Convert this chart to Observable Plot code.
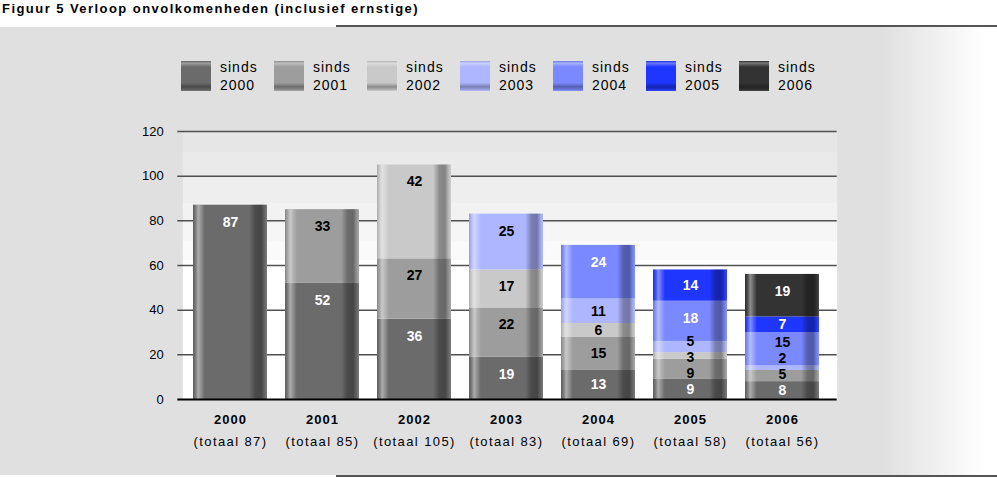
<!DOCTYPE html>
<html><head><meta charset="utf-8">
<script src="https://cdn.jsdelivr.net/npm/d3@7"></script>
<script src="https://cdn.jsdelivr.net/npm/@observablehq/plot@0.6"></script>
<style>
body{margin:0;background:#fff;font-family:"Liberation Sans",Arial,sans-serif;color:#000;}
#wrap{position:relative;width:997px;height:478px;overflow:hidden;}
#title{position:absolute;left:2px;top:1px;font-weight:bold;font-size:13px;letter-spacing:1.45px;white-space:nowrap;}
#topline{position:absolute;left:336px;top:25px;width:661px;height:2px;background:#555;}
#bg{position:absolute;left:0;top:27px;width:997px;height:448px;background:linear-gradient(to right,#e0e0e0 0,#e0e0e0 883px,#ffffff 985px);}
#botline{position:absolute;left:336px;top:475px;width:661px;height:2px;background:#555;}
#legend{position:absolute;left:181px;top:61px;display:flex;}
.item{display:flex;width:93px;}
.sw{width:30px;height:30px;}
.lab{margin-left:9px;font-size:14px;line-height:18px;margin-top:-3px;letter-spacing:1px;}
#chart{position:absolute;left:0;top:110px;}
#chart svg{overflow:visible;}
.xlab text{letter-spacing:1px;}
.tot text{letter-spacing:1.4px;}
</style></head>
<body>
<div id="wrap">
  <div id="bg"></div>
  <div id="title"></div>
  <div id="topline"></div>
  <div id="botline"></div>
  <div id="legend"></div>
  <div id="chart"></div>
</div>
<script>
const titleText = "Figuur 5 Verloop onvolkomenheden (inclusief ernstige)";
const years = ["2000", "2001", "2002", "2003", "2004", "2005", "2006"];
const totals = [87, 85, 105, 83, 69, 58, 56];
const seriesNames = ["sinds 2000", "sinds 2001", "sinds 2002", "sinds 2003", "sinds 2004", "sinds 2005", "sinds 2006"];
const sinds2000 = [87, 52, 36, 19, 13, 9, 8];
const sinds2001 = [0, 33, 27, 22, 15, 9, 5];
const sinds2002 = [0, 0, 42, 17, 6, 3, 0];
const sinds2003 = [0, 0, 0, 25, 11, 5, 2];
const sinds2004 = [0, 0, 0, 0, 24, 18, 15];
const sinds2005 = [0, 0, 0, 0, 0, 14, 7];
const sinds2006 = [0, 0, 0, 0, 0, 0, 19];
const seriesColors = ["#6b6b6b", "#9d9d9d", "#c9c9c9", "#aeb6ff", "#7a89ff", "#1f36ff", "#333333"];
const labelInk = ["white", "black", "black", "black", "white", "white", "white"];
const inkExceptions = [{year: "2006", series: "sinds 2004", ink: "black"}];
const yTicks = [0, 20, 40, 60, 80, 100, 120];

document.getElementById("title").textContent = titleText;

// legend
const legend = document.getElementById("legend");
seriesNames.forEach((s, i) => {
  const it = document.createElement("div"); it.className = "item";
  const sw = document.createElement("div"); sw.className = "sw";
  sw.style.background = "linear-gradient(to bottom, rgba(0,0,0,0.12) 0%, rgba(255,255,255,0.35) 7%, rgba(255,255,255,0.15) 14%, rgba(255,255,255,0) 20%, rgba(0,0,0,0) 72%, rgba(0,0,0,0.12) 78%, rgba(0,0,0,0.3) 86%, rgba(0,0,0,0.15) 94%, rgba(255,255,255,0.1) 100%), " + seriesColors[i];
  const lab = document.createElement("div"); lab.className = "lab";
  const parts = s.split(" ");
  lab.innerHTML = parts[0] + "<br>" + parts[1];
  it.appendChild(sw); it.appendChild(lab); legend.appendChild(it);
});

const values = [sinds2000, sinds2001, sinds2002, sinds2003, sinds2004, sinds2005, sinds2006];
const rows = [];
seriesNames.forEach((s, i) => years.forEach((y, j) => rows.push({year: y, series: s, value: values[i][j], si: i})));

// label positions derived from the stacked data (near the top of each segment,
// then spread apart so small neighbouring segments keep readable labels)
const minGap = 7.1; // in data units (~16px)
const labels = [];
years.forEach((y, j) => {
  let cum = 0;
  const col = [];
  rows.filter(r => r.year === y).forEach(r => {
    cum += r.value;
    if (r.value > 0) {
      const ex = inkExceptions.find(e => e.year === r.year && e.series === r.series);
      col.push({year: y, value: r.value, ypos: cum - Math.min(r.value / 2, 7.6), ink: ex ? ex.ink : labelInk[r.si]});
    }
  });
  for (let it = 0; it < 200; it++) {
    for (let k = 1; k < col.length; k++) {
      const a = col[k - 1], b = col[k];
      if (b.ypos - a.ypos < minGap - 1e-6) {
        if (k === 1) { b.ypos = a.ypos + minGap; }
        else {
          const mid = (a.ypos + b.ypos) / 2;
          a.ypos = mid - minGap / 2; b.ypos = mid + minGap / 2;
        }
      }
    }
  }
  labels.push(...col);
});
const totalRows = years.map((y, j) => ({year: y, total: totals[j]}));

const chart = Plot.plot({
  width: 997,
  height: 368,
  marginTop: 21,
  marginBottom: 79,
  marginLeft: 174.3,
  marginRight: 160.3,
  style: {fontFamily: "Liberation Sans, Arial, sans-serif", fontSize: "13px", background: "transparent", color: "#000"},
  x: {domain: years, padding: 0.2, label: null},
  y: {domain: [0, 120], label: null},
  color: {domain: seriesNames, range: seriesColors},
  marks: [
    Plot.frame({fill: "url(#bgGrad)", stroke: "none", insetLeft: 8}),
    Plot.ruleY(yTicks.filter(d => d > 0), {stroke: "#505050", strokeWidth: 1.5, insetLeft: 3}),
    Plot.barY(rows, {x: "year", y: "value", fill: "series"}),
    Plot.barY(totalRows, {x: "year", y: "total", fill: "url(#barShade)"}),
    Plot.ruleY([0], {stroke: "#000", strokeWidth: 2, insetLeft: 3}),
    Plot.text(labels.filter(d => d.ink === "white"), {x: "year", y: "ypos", text: d => String(d.value), fill: "white", fontWeight: "bold", fontSize: 14}),
    Plot.text(labels.filter(d => d.ink === "black"), {x: "year", y: "ypos", text: d => String(d.value), fill: "black", fontWeight: "bold", fontSize: 14}),
    Plot.axisY({ticks: yTicks, tickSize: 0, tickPadding: 11, fontSize: 13, label: null}),
    Plot.axisX({tickSize: 0, tickPadding: 15, fontSize: 13, fontWeight: "bold", className: "xlab", label: null}),
    Plot.text(totalRows, {x: "year", y: 0, text: d => `(totaal ${d.total})`, dy: 42, fontSize: 13, className: "tot"})
  ]
});

const svg = chart.tagName.toLowerCase() === "svg" ? chart : chart.querySelector("svg");
d3.select(svg).insert("defs", ":first-child").html(`
  <linearGradient id="bgGrad" x1="0" y1="0" x2="0" y2="1">
    <stop offset="0" stop-color="#e6e6e6"/><stop offset="0.078" stop-color="#e6e6e6"/>
    <stop offset="0.078" stop-color="#eaeaea"/><stop offset="0.172" stop-color="#eaeaea"/>
    <stop offset="0.172" stop-color="#eeeeee"/><stop offset="0.265" stop-color="#eeeeee"/>
    <stop offset="0.265" stop-color="#f2f2f2"/><stop offset="0.34" stop-color="#f2f2f2"/>
    <stop offset="0.34" stop-color="#f6f6f6"/><stop offset="0.407" stop-color="#f6f6f6"/>
    <stop offset="0.407" stop-color="#fafafa"/><stop offset="0.48" stop-color="#fafafa"/>
    <stop offset="0.48" stop-color="#ffffff"/><stop offset="1" stop-color="#ffffff"/>
  </linearGradient>
  <linearGradient id="barShade" x1="0" y1="0" x2="1" y2="0">
    <stop offset="0" stop-color="#000" stop-opacity="0.15"/>
    <stop offset="0.04" stop-color="#fff" stop-opacity="0.15"/>
    <stop offset="0.07" stop-color="#fff" stop-opacity="0.45"/>
    <stop offset="0.11" stop-color="#fff" stop-opacity="0.25"/>
    <stop offset="0.16" stop-color="#fff" stop-opacity="0"/>
    <stop offset="0.76" stop-color="#000" stop-opacity="0"/>
    <stop offset="0.84" stop-color="#000" stop-opacity="0.3"/>
    <stop offset="0.92" stop-color="#000" stop-opacity="0.35"/>
    <stop offset="0.96" stop-color="#000" stop-opacity="0.12"/>
    <stop offset="1" stop-color="#fff" stop-opacity="0.1"/>
  </linearGradient>`);
document.getElementById("chart").appendChild(chart);
</script>
</body></html>
